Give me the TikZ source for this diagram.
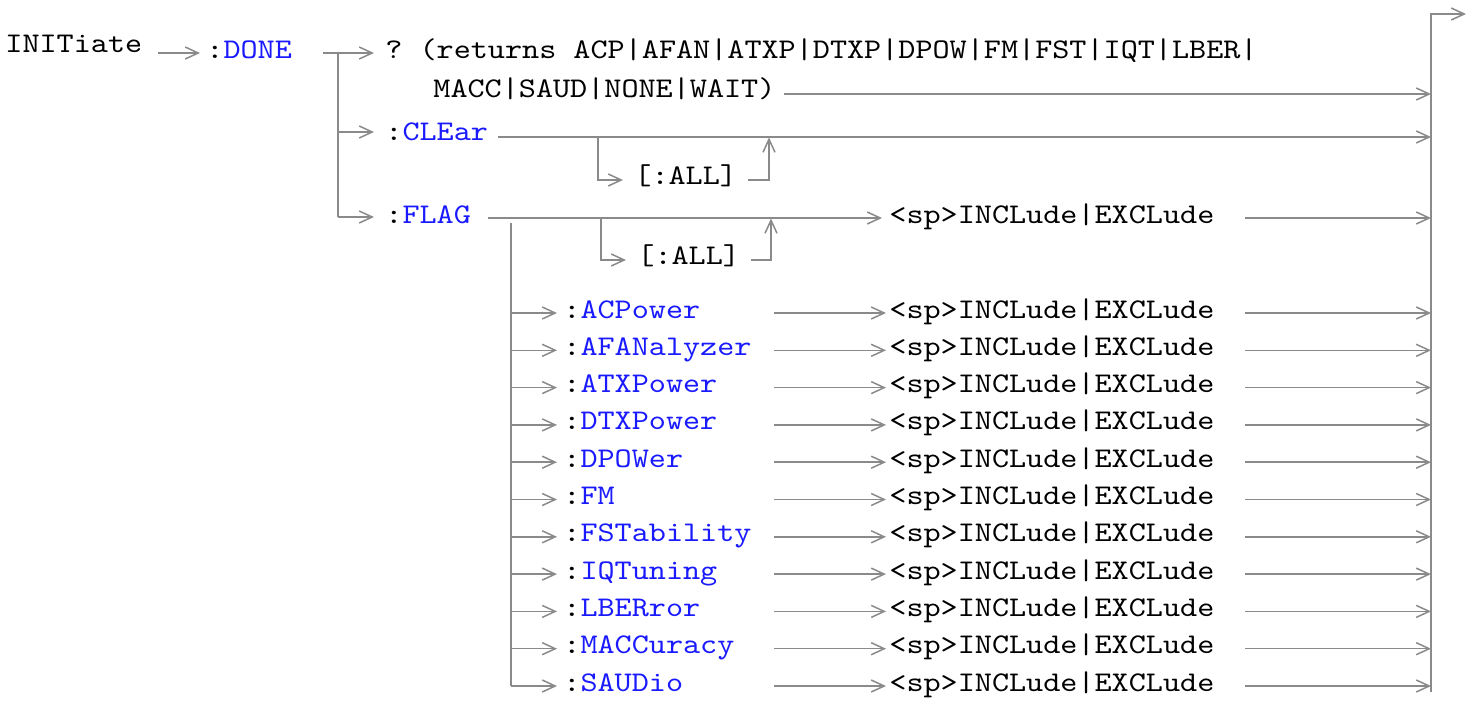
\documentclass[tikz,border=0pt]{standalone}
\usepackage{fontspec}
\setmonofont[FakeStretch=1.143]{lmmono10-regular.otf}
\usetikzlibrary{arrows.meta}
\definecolor{cmdBlue}{HTML}{1A1AFF}
\definecolor{railGray}{HTML}{8A8A8A}

\begin{document}
\begin{tikzpicture}[x=0.5pt,y=-0.5pt,>={Straight Barb[length=6.5pt,width=6pt]},
  rail/.style={railGray,line width=0.75pt},
  kw/.style={anchor=base west,inner sep=0pt,font=\fontsize{14.25}{17}\ttfamily}]
\useasboundingbox (0,0) rectangle (1478,707);
% INITiate:DONE
\node[kw] (init) at (5,52) {INITiate};
\node[kw] (done) at (206,58) {:\textcolor{cmdBlue}{DONE}};
\coordinate (I1) at (158,53);
\coordinate (I2) at (200,53);
\draw[rail,->] (I1) -- (I2);
% bus de sortida
\coordinate (B0) at (1431,692);
\coordinate (B1) at (1431,14);
\coordinate (B2) at (1466,14);
\draw[rail,->] (B0) -- (B1) -- (B2);
% branques de DONE
\coordinate (D0) at (323,53);
\coordinate (D1) at (338,53);
\coordinate (D2) at (374,53);
\coordinate (DC) at (338,132);
\coordinate (DF) at (338,217);
\draw[rail,->] (D0) -- (D2);
\draw[rail] (D1) -- (DF);
\draw[rail,->] (DC) -- (374,132);
\draw[rail,->] (DF) -- (374,217);
% consulta
\node[kw] (query) at (385,58) {? (returns ACP|AFAN|ATXP|DTXP|DPOW|FM|FST|IQT|LBER|};
\node[kw] (query2) at (433,97) {MACC|SAUD|NONE|WAIT)};
\coordinate (Q1) at (784,94);
\draw[rail,->] (Q1) -- (1431,94);
% CLEar
\node[kw] (clear) at (385,140) {:\textcolor{cmdBlue}{CLEar}};
\coordinate (C1) at (498,137);
\draw[rail,->] (C1) -- (1431,137);
\node[kw] (allC) at (634,184) {[:ALL]};
\coordinate (CA) at (598,137);
\coordinate (CB) at (769,137.5);
\draw[rail,->] (CA) -- (598,180) -- (623,180);
\draw[rail,->] (748,180) -- (769,180) -- (CB);
% FLAG
\node[kw] (flag) at (385,223) {:\textcolor{cmdBlue}{FLAG}};
\node[kw] (flagv) at (889,223) {<sp>INCLude|EXCLude};
\coordinate (F1) at (488,218);
\coordinate (F2) at (882,218);
\draw[rail,->] (F1) -- (F2);
\draw[rail,->] (1245,218) -- (1431,218);
\node[kw] (allF) at (637,264) {[:ALL]};
\coordinate (FA) at (601,218);
\coordinate (FB) at (771,218.5);
\draw[rail,->] (FA) -- (601,260) -- (626,260);
\draw[rail,->] (751,260) -- (771,260) -- (FB);
% opcions de FLAG
\coordinate (G0) at (511,223);
\coordinate (G1) at (511,686);
\draw[rail] (G0) -- (G1);
\foreach \opt [count=\i from 0] in {ACPower,AFANalyzer,ATXPower,DTXPower,DPOWer,FM,FSTability,IQTuning,LBERror,MACCuracy,SAUDio}{
  \pgfmathsetmacro{\b}{318+37.3*\i}
  \pgfmathsetmacro{\y}{\b-5}
  \node[kw] (opt\i) at (563,\b) {:\textcolor{cmdBlue}{\opt}};
  \node[kw] (val\i) at (889,\b) {<sp>INCLude|EXCLude};
  \draw[rail,->] (511,\y) -- (557,\y);
  \draw[rail,->] (774,\y) -- (886,\y);
  \draw[rail,->] (1245,\y) -- (1431,\y);
}
\end{tikzpicture}
\end{document}
